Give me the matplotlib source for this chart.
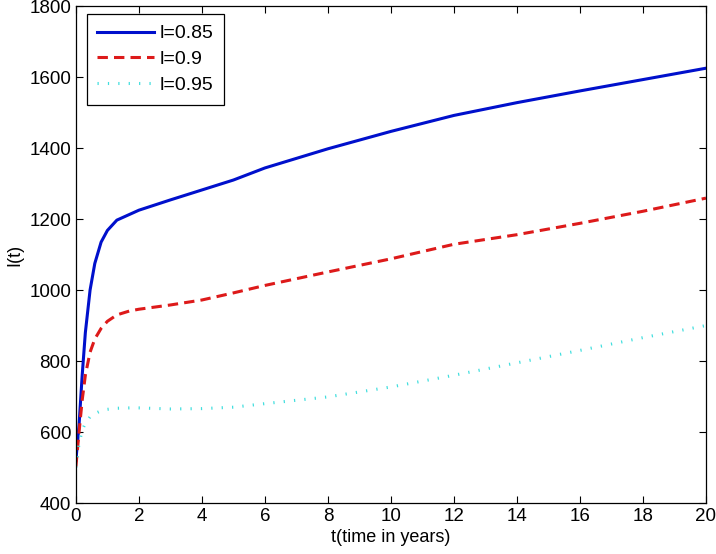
import matplotlib
matplotlib.use('Agg')
import matplotlib.pyplot as plt

plt.rcParams['font.family'] = ['Liberation Sans', 'DejaVu Sans']

# values
t = [0, 0.1, 0.2, 0.3, 0.45, 0.6, 0.8, 1.0, 1.3, 1.7, 2, 3, 4, 5, 6, 8, 10,
     12, 14, 16, 18, 20]
I_085 = [520, 620, 760, 880, 1000, 1075, 1135, 1168, 1197, 1213, 1225, 1254,
         1282, 1310, 1344, 1398, 1447, 1492, 1528, 1561, 1593, 1625]
I_09 = [503, 600, 690, 760, 825, 862, 892, 912, 930, 941, 946, 958,
        972, 992, 1013, 1051, 1088, 1129, 1156, 1188, 1222, 1259]
I_095 = [500, 568, 605, 625, 643, 652, 660, 664, 667, 668, 668, 665,
         666, 670, 680, 699, 727, 760, 795, 830, 866, 900]
labels = ['l=0.85', 'l=0.9', 'l=0.95']
xticks = list(range(0, 21, 2))
yticks = list(range(400, 1801, 200))

fig = plt.figure(figsize=(7.16, 5.54), dpi=100)
ax = fig.add_axes([0.106, 0.092, 0.880, 0.897])

ax.plot(t, I_085, color='#0010cc', lw=2.2, label=labels[0])
ax.plot(t, I_09, color='#dd1a1a', lw=2.2, dashes=[3.4, 2.0], label=labels[1])
ax.plot(t, I_095, color='#40dede', lw=2.2, dashes=[0.4, 3.0], label=labels[2])

ax.set_xlim(0, 20)
ax.set_ylim(400, 1800)
ax.set_xticks(xticks)
ax.set_yticks(yticks)
ax.tick_params(direction='in', top=True, right=True, length=5, width=0.8,
               labelsize=13.5)
for s in ax.spines.values():
    s.set_linewidth(0.9)

ax.set_xlabel('t(time in years)', fontsize=13, labelpad=3)
ax.set_ylabel('I(t)', fontsize=13, labelpad=4)

leg = ax.legend(loc='upper left', fontsize=14, fancybox=False, framealpha=1,
                edgecolor='black', handlelength=2.9, borderpad=0.55,
                labelspacing=0.42, handletextpad=0.3, borderaxespad=0,
                bbox_to_anchor=(0.017, 0.984))
leg.get_frame().set_linewidth(0.9)

fig.savefig('out.png', dpi=100)
